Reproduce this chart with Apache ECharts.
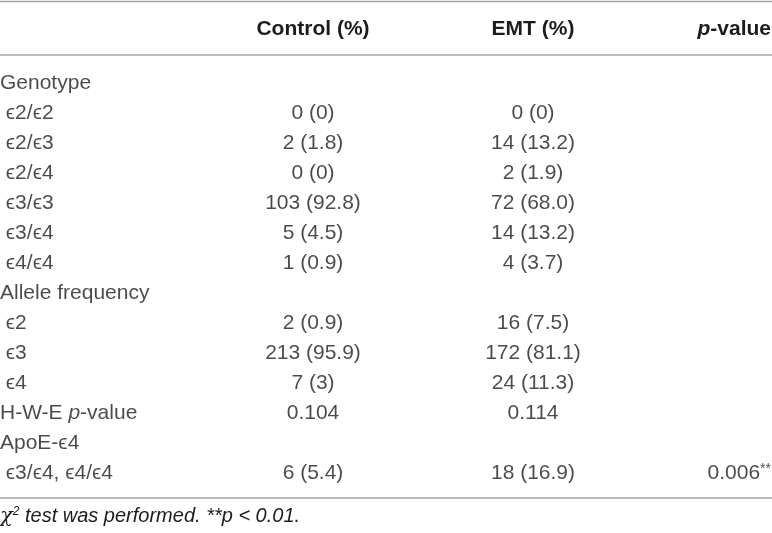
<!DOCTYPE html>
<html>
<head>
<meta charset="utf-8">
<script src="https://cdn.jsdelivr.net/npm/echarts@6/dist/echarts.min.js"></script>
<style>
    html, body { margin: 0; padding: 0; background: #fff; }
    #main { width: 772px; height: 533px; }
</style>
</head>
<body>
<div id="main"></div>
<script>
    // table content
    var headers = ['', 'Control (%)', 'EMT (%)', '{bi|p}-value'];
    var rowLabels = [
        'Genotype', ' ϵ2/ϵ2', ' ϵ2/ϵ3', ' ϵ2/ϵ4', ' ϵ3/ϵ3', ' ϵ3/ϵ4', ' ϵ4/ϵ4',
        'Allele frequency', ' ϵ2', ' ϵ3', ' ϵ4',
        'H-W-E {i|p}-value', 'ApoE-ϵ4', ' ϵ3/ϵ4, ϵ4/ϵ4'
    ];
    var controlValues = ['', '0 (0)', '2 (1.8)', '0 (0)', '103 (92.8)', '5 (4.5)', '1 (0.9)',
        '', '2 (0.9)', '213 (95.9)', '7 (3)', '0.104', '', '6 (5.4)'];
    var emtValues = ['', '0 (0)', '14 (13.2)', '2 (1.9)', '72 (68.0)', '14 (13.2)', '4 (3.7)',
        '', '16 (7.5)', '172 (81.1)', '24 (11.3)', '0.114', '', '18 (16.9)'];
    var pValues = ['', '', '', '', '', '', '', '', '', '', '', '', '', '0.006{sup|**}'];
    var footnote = '{chi|χ}{sup|2} test was performed. **p < 0.01.';

    // layout
    var W = 772;
    var colX = [0, 313, 533, 771];
    var colAlign = ['left', 'center', 'center', 'right'];
    var textColor = '#1e1b1c';
    var lineColor = '#a3a3a3';
    var font = '"Liberation Sans", Arial, Helvetica, sans-serif';
    var fs = 21;

    var rich = {
        i: { fontStyle: 'italic', fontSize: fs, fontFamily: font, color: textColor },
        bi: { fontStyle: 'italic', fontWeight: 'bold', fontSize: fs, fontFamily: font, color: textColor },
        sup: { fontSize: 14, verticalAlign: 'top', padding: [0, 0, 8, 0], fontFamily: font, color: textColor }
    };

    var columns = [rowLabels, controlValues, emtValues, pValues];

    var series = columns.map(function (col, c) {
        return {
            type: 'scatter',
            symbolSize: 1,
            itemStyle: { color: 'rgba(0,0,0,0)' },
            silent: true,
            data: col.map(function (txt, r) { return [colX[c], r, txt]; }),
            label: {
                show: true,
                position: 'inside',
                align: colAlign[c],
                verticalAlign: 'middle',
                color: textColor,
                fontSize: fs,
                fontFamily: font,
                formatter: function (p) { return p.value[2]; },
                rich: rich
            }
        };
    });

    var graphics = [
        { type: 'line', shape: { x1: 0, y1: 1.5, x2: W, y2: 1.5 }, style: { stroke: lineColor, lineWidth: 1.5 } },
        { type: 'line', shape: { x1: 0, y1: 55, x2: W, y2: 55 }, style: { stroke: lineColor, lineWidth: 1.5 } },
        { type: 'line', shape: { x1: 0, y1: 498, x2: W, y2: 498 }, style: { stroke: lineColor, lineWidth: 1.5 } },
        {
            type: 'text', left: 0, top: 506,
            style: {
                text: footnote, fontSize: 20, fontStyle: 'italic', fontFamily: font, fill: textColor,
                rich: {
                    chi: { fontStyle: 'italic', fontSize: 21, fontFamily: 'DejaVu Serif, serif', color: textColor },
                    sup: { fontStyle: 'italic', fontSize: 12, verticalAlign: 'top', padding: [0, 0, 8, 0], fontFamily: font, color: textColor }
                }
            }
        }
    ];
    headers.forEach(function (h, c) {
        if (!h) return;
        graphics.push({
            type: 'text', x: colX[c], y: 29,
            style: {
                text: h, fontSize: fs, fontWeight: 'bold', fontFamily: font, fill: textColor,
                align: colAlign[c], verticalAlign: 'middle', rich: rich
            }
        });
    });

    var chart = echarts.init(document.getElementById('main'), null, { renderer: 'canvas' });
    chart.setOption({
        animation: false,
        backgroundColor: '#fff',
        grid: { left: 0, right: 0, top: 68, bottom: 45 },
        xAxis: { type: 'value', min: 0, max: W, show: false },
        yAxis: {
            type: 'category', inverse: true, show: false,
            data: rowLabels.map(function (v, i) { return i; })
        },
        graphic: graphics,
        series: series
    });
</script>
</body>
</html>
